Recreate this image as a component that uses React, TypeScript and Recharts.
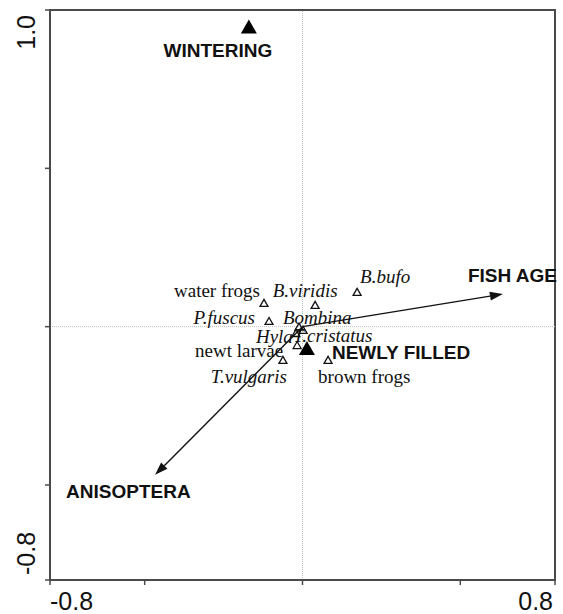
import React from "react"
import { ScatterChart, Scatter, XAxis, YAxis, ReferenceLine, ReferenceArea } from "recharts"

// species scores (open triangles)
const SPECIES = ["water frogs", "B.viridis", "B.bufo", "P.fuscus", "Bombina", "Hyla", "T.cristatus", "newt larvae", "T.vulgaris", "brown frogs"]
const SPECIES_X = [-0.122, 0.04, 0.173, -0.106, -0.011, -0.021, 0.002, -0.017, -0.062, 0.081]
const SPECIES_Y = [0.075, 0.069, 0.11, 0.018, 0.0, -0.02, -0.01, -0.058, -0.105, -0.105]
const NOT_ITALIC = ["water frogs", "newt larvae", "brown frogs"]

// nominal environmental variables (filled triangles)
const CENTROIDS = ["WINTERING", "NEWLY FILLED"]
const CENTROID_X = [-0.17, 0.014]
const CENTROID_Y = [0.948, -0.067]

// quantitative environmental variables (arrows)
const VECTORS = ["FISH AGE", "ANISOPTERA"]
const VECTOR_X = [0.635, -0.467]
const VECTOR_Y = [0.103, -0.468]

const X_TICKS = [-0.8, -0.5, 0, 0.5, 0.8]
const Y_TICKS = [-0.8, -0.5, 0, 0.5, 1.0]

// label placement relative to the mark, in px
const LABEL_LAYOUT: Record<string, { dx: number; dy: number; anchor: "start" | "middle" | "end" }> = {
  "water frogs": { dx: -4, dy: -12, anchor: "end" },
  "B.viridis": { dx: -10, dy: -14, anchor: "middle" },
  "B.bufo": { dx: 3, dy: -15, anchor: "start" },
  "P.fuscus": { dx: -14, dy: -3, anchor: "end" },
  Bombina: { dx: -16, dy: -9, anchor: "start" },
  Hyla: { dx: -3, dy: 3, anchor: "end" },
  "T.cristatus": { dx: -10, dy: 6, anchor: "start" },
  "newt larvae": { dx: -14, dy: 5, anchor: "end" },
  "T.vulgaris": { dx: 4, dy: 17, anchor: "end" },
  "brown frogs": { dx: -10, dy: 17, anchor: "start" },
  WINTERING: { dx: -31, dy: 24, anchor: "middle" },
  "NEWLY FILLED": { dx: 25, dy: 5, anchor: "start" },
  "FISH AGE": { dx: -35, dy: -19, anchor: "start" },
  ANISOPTERA: { dx: -89, dy: 17, anchor: "start" },
}

const speciesData = SPECIES.map((name, i) => ({ name, x: SPECIES_X[i], y: SPECIES_Y[i] }))
const centroidData = CENTROIDS.map((name, i) => ({ name, x: CENTROID_X[i], y: CENTROID_Y[i] }))

const SANS = "'Liberation Sans', Arial, sans-serif"
const SERIF = "'Liberation Serif', 'Times New Roman', serif"

const Label = ({ x, y, name, bold }: { x: number; y: number; name: string; bold?: boolean }) => {
  const l = LABEL_LAYOUT[name]
  return (
    <text
      x={x + l.dx}
      y={y + l.dy}
      textAnchor={l.anchor}
      dominantBaseline="central"
      fontFamily={bold ? SANS : SERIF}
      fontWeight={bold ? "bold" : "normal"}
      fontStyle={bold || NOT_ITALIC.includes(name) ? "normal" : "italic"}
      fontSize={19}
      fill="#111"
    >
      {name}
    </text>
  )
}

const SpeciesMark = (props: any) => {
  const { cx, cy, payload } = props
  const h = 3.5
  return (
    <g>
      <polygon
        points={`${cx},${cy - h} ${cx + 4},${cy + h} ${cx - 4},${cy + h}`}
        fill="none"
        stroke="#111"
        strokeWidth={1.3}
      />
      <Label x={cx} y={cy} name={payload.name} />
    </g>
  )
}

const CentroidMark = (props: any) => {
  const { cx, cy, payload } = props
  return (
    <g>
      <polygon points={`${cx},${cy - 7} ${cx + 8},${cy + 7} ${cx - 8},${cy + 7}`} fill="#000" />
      <Label x={cx} y={cy} name={payload.name} bold />
    </g>
  )
}

const Arrow = (props: any) => {
  const { x1, y1, x2, y2, name } = props
  const ang = Math.atan2(y2 - y1, x2 - x1)
  const len = 13
  const w = 4.5
  const bx = x2 - len * Math.cos(ang)
  const by = y2 - len * Math.sin(ang)
  const px = -Math.sin(ang) * w
  const py = Math.cos(ang) * w
  return (
    <g>
      <line x1={x1} y1={y1} x2={bx} y2={by} stroke="#111" strokeWidth={1.4} />
      <polygon points={`${x2},${y2} ${bx + px},${by + py} ${bx - px},${by - py}`} fill="#111" />
      <Label x={x2} y={y2} name={name} bold />
    </g>
  )
}

const XTick = (props: any) => {
  const { x, y, payload } = props
  const v = payload.value
  if (Math.abs(Math.abs(v) - 0.8) > 1e-6) return null
  return (
    <text x={x} y={y + 23} textAnchor={v < 0 ? "start" : "end"} fontFamily={SANS} fontSize={25} fill="#111">
      {v.toFixed(1)}
    </text>
  )
}

const YTick = (props: any) => {
  const { x, y, payload } = props
  const v = payload.value
  if (v !== 1 && Math.abs(v + 0.8) > 1e-6) return null
  const tx = x - 8
  const ty = v > 0 ? y + 5 : y - 5
  return (
    <text
      x={tx}
      y={ty}
      transform={`rotate(-90, ${tx}, ${ty})`}
      textAnchor={v > 0 ? "end" : "start"}
      fontFamily={SANS}
      fontSize={25}
      fill="#111"
    >
      {v.toFixed(1)}
    </text>
  )
}

export default function App() {
  return (
    <div style={{ position: "absolute", left: 0, top: 0, background: "#fff" }}>
      <ScatterChart width={563} height={614} margin={{ top: 10, right: 8, left: 0, bottom: 0 }}>
        <XAxis
          type="number"
          dataKey="x"
          domain={[-0.8, 0.8]}
          ticks={X_TICKS}
          height={34}
          allowDataOverflow
          axisLine={{ stroke: "#4a4a4a", strokeWidth: 2 }}
          tickLine={{ stroke: "#4a4a4a", strokeWidth: 1.5 }}
          tickSize={5}
          tick={<XTick />}
        />
        <YAxis
          type="number"
          dataKey="y"
          domain={[-0.8, 1.0]}
          ticks={Y_TICKS}
          width={50}
          allowDataOverflow
          axisLine={{ stroke: "#4a4a4a", strokeWidth: 2 }}
          tickLine={{ stroke: "#4a4a4a", strokeWidth: 1.5 }}
          tickSize={5}
          tick={<YTick />}
        />
        <ReferenceLine x={0} stroke="#bdbdbd" strokeWidth={1} strokeDasharray="1 1" />
        <ReferenceLine y={0} stroke="#bdbdbd" strokeWidth={1} strokeDasharray="1 1" />
        <ReferenceArea x1={-0.8} x2={0.8} y1={-0.8} y2={1.0} fill="none" stroke="#4a4a4a" strokeWidth={2} />
        {VECTORS.map((name, i) => (
          <ReferenceLine
            key={name}
            segment={[{ x: 0, y: 0 }, { x: VECTOR_X[i], y: VECTOR_Y[i] }]}
            ifOverflow="visible"
            shape={(p: any) => <Arrow {...p} name={name} />}
          />
        ))}
        <Scatter data={speciesData} shape={SpeciesMark} isAnimationActive={false} />
        <Scatter data={centroidData} shape={CentroidMark} isAnimationActive={false} />
      </ScatterChart>
    </div>
  )
}
